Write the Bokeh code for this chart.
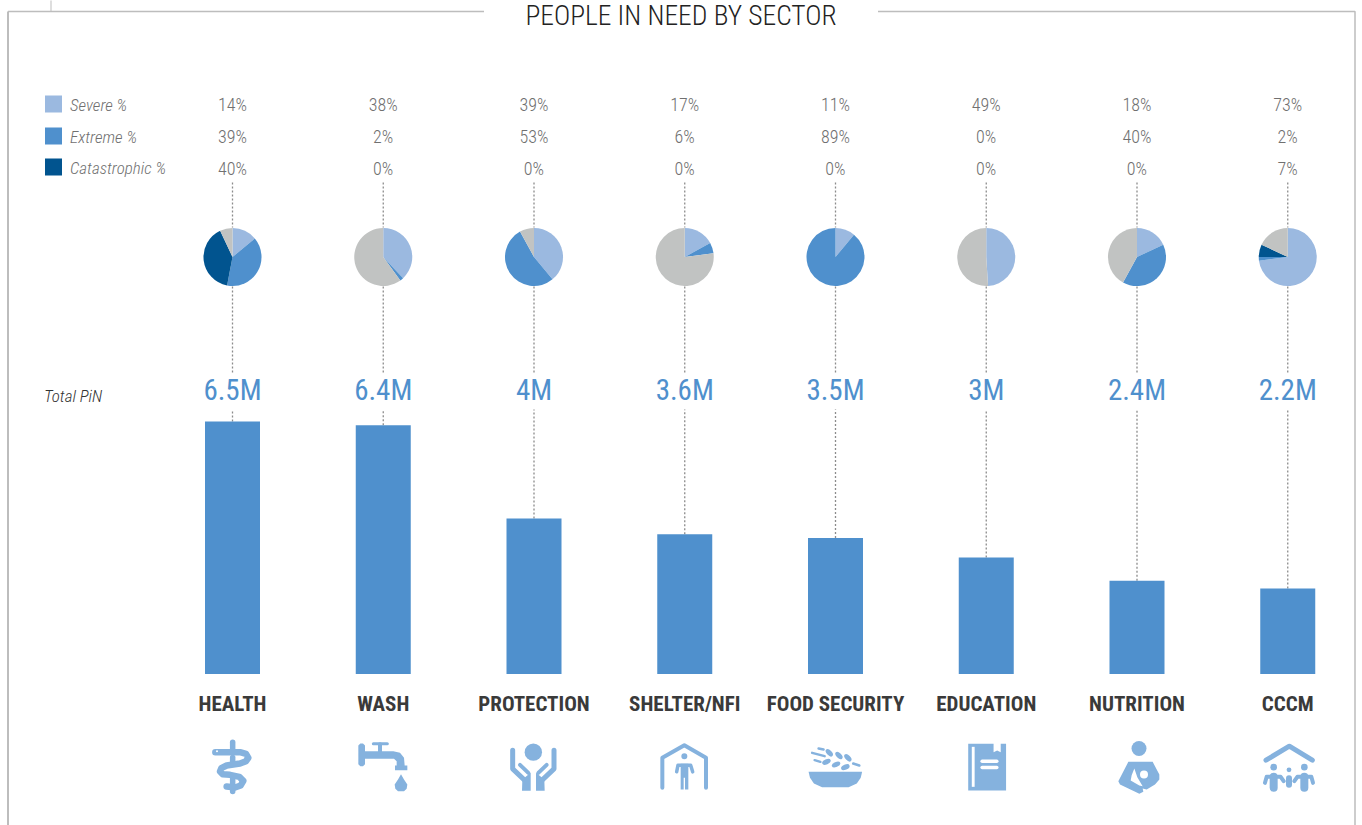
import math
from bokeh.core.properties import value
from bokeh.embed import file_html
from bokeh.models import ColumnDataSource, Range1d
from bokeh.plotting import figure
from bokeh.resources import INLINE

sectors = ["HEALTH", "WASH", "PROTECTION", "SHELTER/NFI", "FOOD SECURITY", "EDUCATION", "NUTRITION", "CCCM"]
pin_millions = [6.5, 6.4, 4.0, 3.6, 3.5, 3.0, 2.4, 2.2]
pin_labels = ["6.5M", "6.4M", "4M", "3.6M", "3.5M", "3M", "2.4M", "2.2M"]
severe = [14, 38, 39, 17, 11, 49, 18, 73]
extreme = [39, 2, 53, 6, 89, 0, 40, 2]
catastrophic = [40, 0, 0, 0, 0, 0, 0, 7]
legend_labels = ["Severe %", "Extreme %", "Catastrophic %"]
title_text = "PEOPLE IN NEED BY SECTOR"

W, H = 1362, 825
SEV, EXT, CAT, REST = "#9bb9e0", "#4f90cd", "#01548f", "#c1c3c2"
ICON = "#85b2de"
FRAME = "#bdbdbd"
DOT = "#8c8c8c"
FONT = value("Roboto Condensed, Liberation Sans Narrow, Roboto")
LIGHT = value("Roboto Condensed Light, Roboto Condensed, Liberation Sans Narrow, Roboto")

OFFX, OFFY = 0.5, 1
X0, DX = 232, 150.75
BASE, PXM = 673.5, 38.85

p = figure(width=W, height=H, x_range=Range1d(OFFX, W + OFFX), y_range=Range1d(H + OFFY, OFFY),
           x_axis_type=None, y_axis_type=None, output_backend="svg", toolbar_location=None,
           min_border=0, outline_line_color=None, background_fill_color="white")
p.styles = {"position": "absolute", "left": "0", "top": "0"}
p.grid.visible = False
p.extra_x_ranges["sector"] = Range1d(-X0 / DX, (W - X0) / DX)
p.extra_y_ranges["pin"] = Range1d((BASE - H) / PXM, BASE / PXM)

idx = list(range(len(sectors)))

# frame
for xs, ys, w in [([8, 8], [826, 12], 2), ([8, 484], [12, 12], 1.5), ([878, 1355, 1355], [12, 12, 826], 1.5),
                  ([51, 51], [0, 12], 1)]:
    p.line(xs, ys, line_color=FRAME, line_width=w)

p.text([681], [16], text=[title_text], text_font=LIGHT, text_font_size="27.5px", text_color="#222222",
       text_align="center", text_baseline="middle")

# dotted connectors
DASH = "2 2"
p.segment(idx, [183] * 8, idx, [228] * 8, x_range_name="sector", line_color=DOT, line_width=1.3, line_dash=DASH)
p.segment(idx, [287] * 8, idx, [375] * 8, x_range_name="sector", line_color=DOT, line_width=1.3, line_dash=DASH)
p.segment(idx, pin_millions, idx, [(BASE - 409) / PXM] * 8, x_range_name="sector", y_range_name="pin",
          line_color=DOT, line_width=1.3, line_dash=DASH)

# legend
for y, c, t in zip([104.5, 136.5, 167.5], [SEV, EXT, CAT], legend_labels):
    p.rect([53.5], [y], width=17, height=17, fill_color=c, line_color=None)
    p.text([70], [y + 0.5], text=[t], text_font=LIGHT, text_font_size="17px", text_font_style="italic",
           text_color="#707070", text_baseline="middle")
p.text([44], [396], text=["Total PiN"], text_font=LIGHT, text_font_size="17px", text_font_style="italic",
       text_color="#333333", text_baseline="middle")

# percentage rows
for y, vals in zip([105, 137, 169], [severe, extreme, catastrophic]):
    p.text(idx, [y] * 8, text=[f"{v}%" for v in vals], x_range_name="sector", text_font=LIGHT,
           text_font_size="18px", text_color="#707070", text_align="center", text_baseline="middle")

# pies
for i in idx:
    parts = [severe[i], extreme[i], catastrophic[i]]
    parts.append(max(100 - sum(parts), 0))
    cum = 0
    for v, c in zip(parts, [SEV, EXT, CAT, REST]):
        if v > 0:
            a0 = math.pi / 2 - 2 * math.pi * (cum + v) / 100
            a1 = math.pi / 2 - 2 * math.pi * cum / 100
            p.wedge([i], [257.5], radius=29, radius_units="screen", start_angle=a0, end_angle=a1,
                    x_range_name="sector", fill_color=c, line_color=None)
        cum += v

# totals and bars
p.text(idx, [390] * 8, text=pin_labels, x_range_name="sector", text_font=FONT, text_font_size="29px",
       text_color=EXT, text_align="center", text_baseline="middle")
src = ColumnDataSource(dict(x=idx, top=pin_millions))
p.vbar(x="x", top="top", bottom=0, width=55 / DX, source=src, x_range_name="sector", y_range_name="pin",
       fill_color=EXT, line_color=None)
p.text(idx, [704] * 8, text=sectors, x_range_name="sector", text_font=FONT, text_font_size="21px",
       text_font_style="bold", text_color="#3a3a3a", text_align="center", text_baseline="middle")


# ---- decorative sector icons, drawn in pixel space
def mapper(ox, oy, sx, sy=3.0):
    return lambda pts: ([ox + a / sx for a, _ in pts], [oy + b / sy for _, b in pts])


def stroke(m, pts, w, color=ICON):
    xs, ys = m(pts)
    p.line(xs, ys, line_color=color, line_width=w, line_cap="round", line_join="round")


def fill(m, pts, color=ICON):
    xs, ys = m(pts)
    p.patch(xs, ys, fill_color=color, line_color=None)


def dot(m, cx, cy, r, color=ICON):
    xs, ys = m([(cx, cy)])
    p.circle(xs, ys, radius=r, radius_units="screen", fill_color=color, line_color=None)


# health
m = mapper(180, 730, 3)
for y0, y1 in [(38, 56), (84, 104), (148, 186)]:
    stroke(m, [(158, y0), (158, y1)], 5.5)
stroke(m, [(106, 68), (180, 68), (198, 73), (205, 85), (198, 95), (180, 102), (140, 108), (124, 116), (120, 126),
           (128, 134), (150, 136), (178, 142), (190, 154), (182, 168), (165, 174), (140, 171)], 6.5)
dot(m, 111, 65, 1, "white")
# wash
fill(m, [(535, 48), (541, 42), (549, 42), (555, 48), (555, 65), (640, 65), (660, 70), (672, 85), (674, 108), (682, 108),
         (682, 122), (645, 122), (645, 108), (650, 108), (650, 95), (642, 88), (555, 88), (555, 104), (549, 110),
         (541, 110), (535, 104)])
stroke(m, [(600, 44), (600, 65)], 4)
stroke(m, [(580, 43), (622, 43)], 3)
fill(m, [(663, 134), (672, 150), (682, 165), (680, 178), (672, 185), (654, 185), (646, 178), (644, 165), (654, 150)])
# protection
dot(m, 1060, 68, 8.7)
for f in (lambda v: v, lambda v: 2120 - v):
    stroke(m, [(f(998), 62), (f(998), 118), (f(1040), 158)], 5)
    fill(m, [(f(1027), 150), (f(1052), 130), (f(1052), 184), (f(1026), 184)])
    stroke(m, [(f(1020), 106), (f(1045), 130)], 4)
# shelter
m = mapper(630, 735, 3)
stroke(m, [(97, 160), (97, 70), (163, 32), (228, 70), (228, 160)], 4)
dot(m, 163, 65, 3)
stroke(m, [(140, 112), (144, 92), (182, 92), (188, 112)], 3.5)
fill(m, [(152, 88), (175, 88), (175, 165), (165, 165), (165, 130), (161, 130), (161, 165), (152, 165)])
# food security
m = mapper(780, 730, 2.8)
fill(m, [(80, 127), (230, 127), (226, 145), (215, 162), (192, 173), (118, 173), (95, 162), (84, 145)])
for a, b in [((108, 57), (122, 60)), ((90, 70), (125, 80)), ((97, 92), (113, 97)), ((205, 102), (222, 108))]:
    stroke(m, [a, b], 2.5)
for (cx, cy), ang in zip([(138, 70), (165, 78), (190, 85), (130, 97), (157, 105), (183, 113)],
                         [-0.8, -0.8, -0.8, 0.4, 0.4, 0.4]):
    xs, ys = m([(cx, cy)])
    p.ellipse(xs, ys, width=9, height=5, angle=ang, fill_color=ICON, line_color=None)
# education
fill(m, [(527, 43), (598, 43), (598, 68), (608, 63), (618, 68), (618, 43), (633, 43), (633, 183), (527, 183)])
fill(m, [(537, 52), (545, 52), (545, 172), (537, 172)], "white")
stroke(m, [(566, 95), (607, 95)], 3.5, "white")
stroke(m, [(566, 114), (607, 114)], 3.5, "white")
# nutrition
m = mapper(1100, 735, 3)
dot(m, 117, 42, 7.5)
fill(m, [(85, 82), (158, 82), (178, 120), (178, 135), (165, 150), (140, 165), (128, 162), (130, 172), (118, 178),
         (60, 150), (55, 140)])
fill(m, [(95, 122), (103, 102), (112, 128), (128, 155), (118, 153), (92, 138)], "white")
dot(m, 132, 120, 4, "white")
# CCCM
m = mapper(1240, 700, 3)
stroke(m, [(78, 182), (148, 140), (217, 182)], 5)
dot(m, 101, 203, 3.3)
dot(m, 193, 203, 3.3)
dot(m, 147, 211, 2.4)
for f in (lambda v: v, lambda v: 294 - v):
    stroke(m, [(f(101), 232), (f(101), 265)], 8)
    stroke(m, [(f(75), 250), (f(80), 232), (f(122), 232), (f(131), 245)], 4)
stroke(m, [(147, 236), (147, 256)], 6)

open("out.html", "w").write(file_html(p, INLINE))
